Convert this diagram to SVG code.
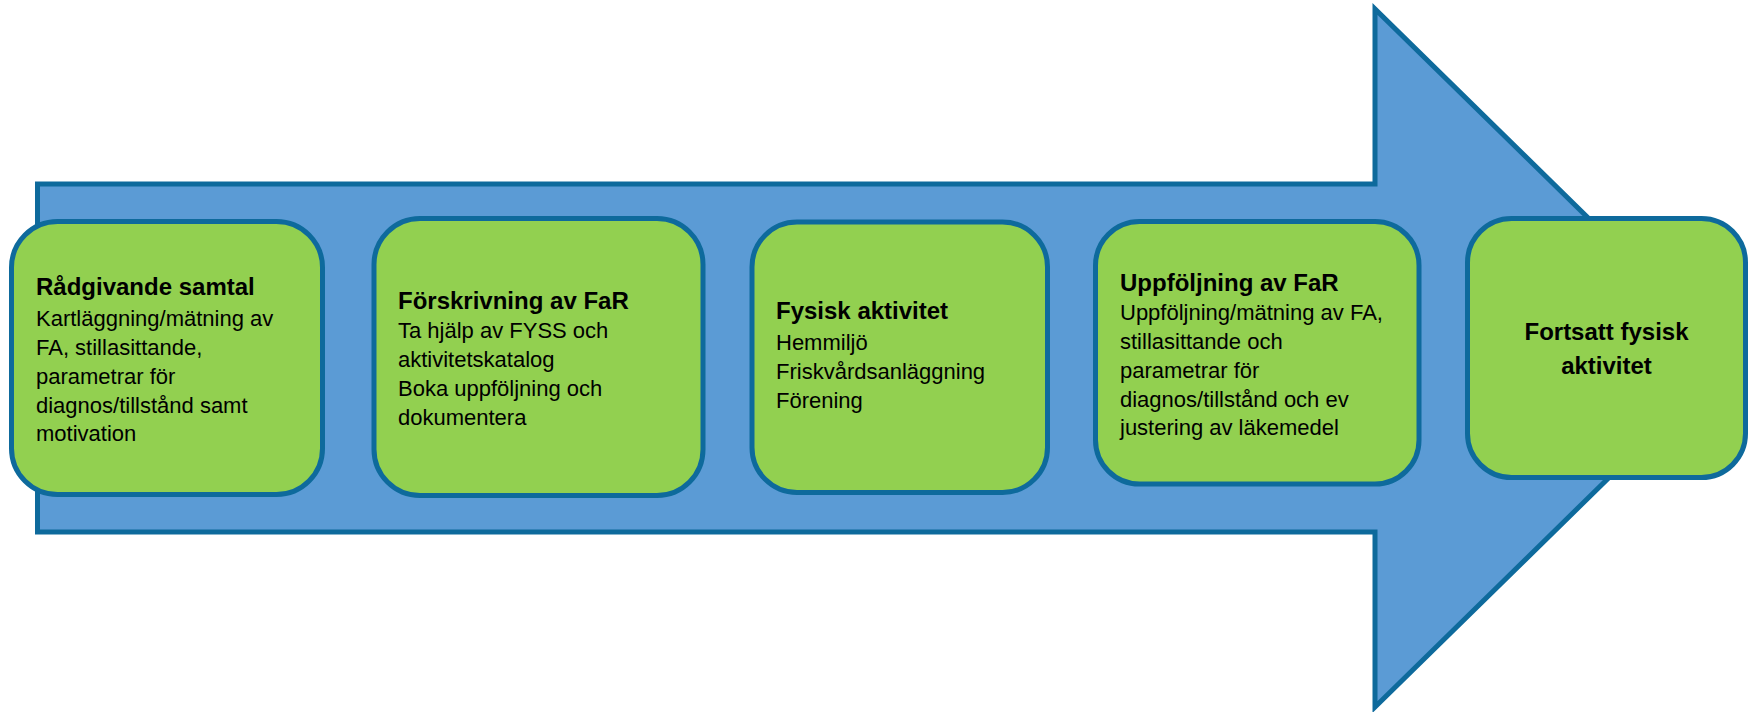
<svg xmlns="http://www.w3.org/2000/svg" width="1752" height="712" viewBox="0 0 1752 712">
<style>
.bg{fill:#ffffff}
.arrow{fill:#5B9BD5;stroke:#0E6A9C;stroke-width:5;stroke-linejoin:miter}
.box{fill:#92D050;stroke:#0E6A9C;stroke-width:5}
.t{font-family:"Liberation Sans",Arial,sans-serif;font-size:24px;font-weight:bold;fill:#000}
.b{font-family:"Liberation Sans",Arial,sans-serif;font-size:22px;fill:#000}
</style>
<rect class="bg" x="0" y="0" width="1752" height="712"/>
<g id="connectors">
<path id="flow-arrow" class="arrow" d="M37.5,184 L1375,184 L1375,9 L1731,358 L1375,707 L1375,532 L37.5,532 Z"/>
</g>
<g id="node-radgivande">
<rect class="box" x="11.5" y="221.5" width="311" height="273" rx="46" ry="46"/>
<text class="t" x="36" y="295">Rådgivande samtal</text>
<text class="b" x="36" y="325.5">Kartläggning/mätning av</text>
<text class="b" x="36" y="354.5">FA, stillasittande,</text>
<text class="b" x="36" y="383.5">parametrar för</text>
<text class="b" x="36" y="412.5">diagnos/tillstånd samt</text>
<text class="b" x="36" y="441">motivation</text>
</g>
<g id="node-forskrivning">
<rect class="box" x="374" y="218.5" width="329" height="277" rx="46" ry="46"/>
<text class="t" x="398" y="309">Förskrivning av FaR</text>
<text class="b" x="398" y="338">Ta hjälp av FYSS och</text>
<text class="b" x="398" y="367">aktivitetskatalog</text>
<text class="b" x="398" y="396">Boka uppföljning och</text>
<text class="b" x="398" y="425">dokumentera</text>
</g>
<g id="node-fysisk">
<rect class="box" x="752" y="222" width="295.5" height="270.5" rx="45" ry="45"/>
<text class="t" x="776" y="319">Fysisk aktivitet</text>
<text class="b" x="776" y="349.5">Hemmiljö</text>
<text class="b" x="776" y="378.5">Friskvårdsanläggning</text>
<text class="b" x="776" y="407.5">Förening</text>
</g>
<g id="node-uppfoljning">
<rect class="box" x="1095.5" y="221.5" width="323.5" height="262.5" rx="44" ry="44"/>
<text class="t" x="1120" y="291">Uppföljning av FaR</text>
<text class="b" x="1120" y="320">Uppföljning/mätning av FA,</text>
<text class="b" x="1120" y="349">stillasittande och</text>
<text class="b" x="1120" y="378">parametrar för</text>
<text class="b" x="1120" y="407">diagnos/tillstånd och ev</text>
<text class="b" x="1120" y="435">justering av läkemedel</text>
</g>
<g id="node-fortsatt">
<rect class="box" x="1467.5" y="218.5" width="278" height="259" rx="44" ry="44"/>
<text class="t" x="1606.5" y="340" text-anchor="middle">Fortsatt fysisk</text>
<text class="t" x="1606.5" y="374" text-anchor="middle">aktivitet</text>
</g>
</svg>
